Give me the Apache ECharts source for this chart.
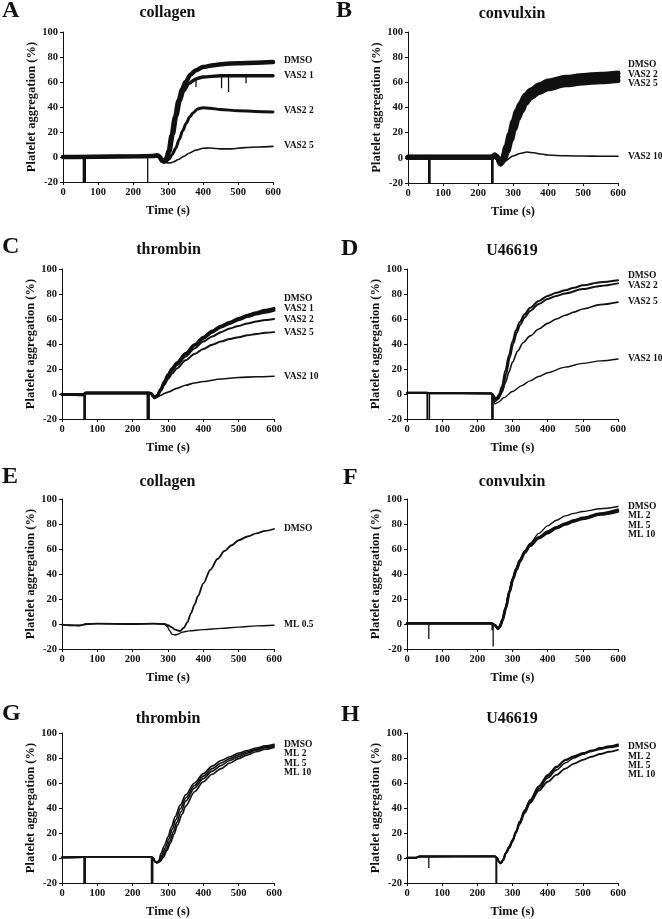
<!DOCTYPE html>
<html>
<head>
<meta charset="utf-8">
<script src="https://cdn.jsdelivr.net/npm/echarts@6/dist/echarts.min.js"></script>
<style>
html,body{margin:0;padding:0;background:#fff}
#main{width:662px;height:919px}
</style>
</head>
<body>
<div id="main"></div>
<script>
// ---- data: [time (s), aggregation (%)] ----
// A  collagen / VAS2
var aDMSO = [[0,0],[100,0.3],[200,0.5],[255,0.8],[268,1.5],[276,0.5],[283,-3],[289,-3.5],[295,-1],[302,5],[310,17],[320,32],[330,45],[340,54],[350,60],[365,66],[380,69.5],[400,72],[430,73.5],[460,74.5],[500,75],[550,75.5],[600,76]];
var aVAS2_1 = [[0,0],[260,0.5],[272,1],[280,-2],[288,-4],[296,-2.5],[305,4],[315,18],[325,33],[335,45],[345,53],[360,59],[380,62.5],[400,64],[450,65],[500,65],[600,65]];
var aVAS2_2 = [[0,0],[260,0.5],[272,0.5],[282,-2.5],[292,-4],[302,-2],[312,2],[322,7],[332,14],[342,21],[352,27],[362,32],[372,35.5],[385,38.5],[400,39.5],[420,39],[450,38],[500,37],[550,36.5],[600,36]];
var aVAS2_5 = [[0,0],[260,0.5],[275,0],[285,-3],[295,-4.6],[305,-4.8],[315,-4],[330,-2],[345,0.5],[360,3],[380,5.5],[400,7],[420,7.2],[450,6.5],[480,6.5],[520,7.5],[560,8],[600,8.5]];
var spikesA = [[58,0,-20],[60,0,-20],[62,0,-20],[64,0,-20],[242,0,-20],[380,62,56],[453,65,55],[473,65,52],[523,65,59]];

// B  convulxin / VAS2
var bDMSO = [[0,0.5],[240,0.5],[248,2.5],[255,1],[262,-4],[270,0],[280,9],[290,19],[300,29],[310,37],[320,43],[335,50],[350,54],[375,58],[400,61],[450,64],[500,65.5],[550,66.5],[600,67.5]];
var bVAS2_2 = [[0,0.5],[240,0.5],[250,1.5],[256,0],[263,-4.5],[272,-1],[282,7],[292,16.5],[302,27],[312,34.5],[322,40.5],[335,46.5],[350,51],[375,55],[400,58],[450,61],[500,62.5],[550,63.5],[600,64.5]];
var bVAS2_5 = [[0,0.5],[240,0.5],[250,1],[258,-1],[265,-5],[275,-2],[285,5],[295,14],[305,23],[315,31],[325,37],[337,43],[350,47.5],[375,52],[400,55],[450,58],[500,59.5],[550,60.5],[600,61.5]];
var bVAS2_10 = [[0,0.5],[240,0.5],[250,0.5],[258,-3],[265,-4.5],[280,-2],[300,1.5],[320,3.5],[340,4.6],[360,4],[380,3],[400,2.2],[450,1.6],[500,1.4],[550,1.3],[600,1.2]];
var spikesB = [[59,0.5,-20],[61,0.5,-20],[63,0.5,-20],[239,0.5,-20],[241,0.5,-20],[243,0.5,-20]];

// C  thrombin / VAS2
var cDMSO = [[0,-0.3],[60,-0.5],[68,0.8],[245,0.8],[252,0.5],[258,-1.5],[262,-3],[270,-1],[280,4],[290,10],[300,15.5],[312,20.5],[325,25],[350,32.5],[375,39.5],[400,45.5],[425,50.5],[450,54.5],[475,57.5],[500,60.5],[525,63],[550,65],[575,67],[600,68.5]];
var cVAS2_1 = [[0,-0.3],[60,-0.5],[68,0.8],[245,0.8],[252,0.5],[258,-1.5],[262,-3],[270,-1],[280,3.5],[290,9.5],[300,15],[312,20],[325,24.5],[350,32],[375,39],[400,44.5],[425,49.5],[450,53.5],[475,56.5],[500,59.5],[525,62],[550,64],[575,65.5],[600,67]];
var cVAS2_2 = [[0,-0.3],[60,-0.5],[68,0.8],[245,0.8],[252,0.5],[258,-1.5],[262,-3],[270,-1.5],[280,3],[290,8.5],[300,13.5],[312,18.5],[325,23],[350,30],[375,36.5],[400,42],[425,46],[450,49.5],[475,52.5],[500,54.5],[525,56.5],[550,58],[575,59.2],[600,60]];
var cVAS2_5 = [[0,-0.3],[60,-0.5],[68,0.8],[245,0.8],[252,0.5],[258,-1.5],[262,-3],[270,-1.5],[280,2.5],[290,7.5],[300,12],[312,16.5],[325,20.5],[350,27],[375,32],[400,36],[425,39.5],[450,42],[475,44],[500,45.5],[525,47],[550,48],[575,49],[600,49.5]];
var cVAS2_10 = [[0,-0.3],[60,-0.5],[68,0.8],[245,0.8],[252,0.5],[258,-1.5],[262,-3],[270,-2.5],[280,-1],[290,0.5],[300,1.5],[325,4.5],[350,7],[375,8.8],[400,10],[450,12],[500,13.2],[550,13.8],[600,14.2]];
var spikesC = [[62,0,-20],[64,0,-20],[66,0,-20],[241,0.8,-20],[243,0.8,-20],[245,0.8,-20],[247,0.8,-20]];

// D  U46619 / VAS2
var dDMSO = [[0,1],[56,1],[66,0.6],[240,0.5],[246,-1],[250,-3],[256,-3],[262,0],[270,6],[280,19],[290,31],[300,42],[310,51],[320,57.5],[335,64],[350,69],[375,74.5],[400,78.5],[425,81],[450,83],[475,85],[500,87],[550,89.5],[600,91]];
var dVAS2_2 = [[0,1],[56,1],[66,0.6],[240,0.5],[246,-1.5],[250,-4],[258,-3.5],[265,-1],[272,4],[282,16],[292,29],[302,40],[312,49],[322,55.5],[335,61.5],[350,66.5],[375,72],[400,76],[425,78.5],[450,80.5],[500,84],[550,86.5],[600,88.5]];
var dVAS2_5 = [[0,1],[56,1],[66,0.6],[240,0.5],[246,-2],[250,-6],[260,-4],[270,1.5],[280,9],[290,17.5],[300,25.5],[315,34.5],[330,41],[350,46.5],[375,52],[400,56.5],[425,60],[450,63],[475,65.5],[500,68],[550,71.5],[600,73.5]];
var dVAS2_10 = [[0,1],[56,1],[66,0.6],[240,0.5],[246,-3],[250,-8],[260,-6.5],[275,-3],[300,2],[325,6.5],[350,10.5],[375,14],[400,17],[450,21.5],[500,24.5],[550,26.5],[600,28]];
var spikesD = [[57,1,-20],[59,1,-20],[64,1,-20],[241,0.5,-20],[243,0.5,-20],[245,0.5,-20]];

// E  collagen / ML
var eDMSO = [[0,-0.5],[20,-1],[50,-1.2],[70,0],[100,0.3],[200,0],[260,0.3],[290,0],[300,-1],[310,-2.5],[320,-4.5],[334,-5.6],[345,-3],[355,1.5],[365,8.5],[375,15.5],[385,22.5],[400,32.5],[420,43.5],[440,52],[460,58.5],[480,63],[500,67],[525,70],[550,72.5],[575,74.5],[600,76]];
var eML05 = [[0,-0.5],[20,-1],[50,-1.2],[70,0],[100,0.3],[200,0],[260,0.3],[290,0],[298,-2],[305,-5.5],[312,-8.3],[320,-8.8],[330,-8],[340,-6.5],[360,-5.5],[400,-4.5],[450,-3.5],[500,-2.5],[550,-1.5],[600,-1]];

// F  convulxin / ML
var fDMSO = [[0,0.5],[240,0.5],[250,-1],[257,-3.5],[263,-2],[270,3],[280,13.5],[290,26],[300,36.5],[310,44.5],[320,51],[335,58.5],[350,64.5],[375,72.5],[400,78.5],[425,83],[450,86.5],[475,88.5],[500,90],[550,92.2],[600,94]];
var fML2 = [[0,0.5],[240,0.5],[250,-1],[258,-3.5],[264,-2],[271,3],[281,13.5],[291,26],[301,36.5],[311,44.5],[321,51],[335,58],[350,63.5],[375,69.5],[400,74],[425,77.5],[450,80.5],[475,83],[500,85],[550,88.5],[600,91.5]];
var fML5 = [[0,0.5],[240,0.5],[250,-1],[258,-3.5],[264,-2],[271,3],[281,13],[291,25.5],[301,36],[311,44],[321,50.5],[335,57.5],[350,63],[375,69],[400,73],[425,77],[450,80],[475,82.5],[500,84.5],[550,88],[600,90.5]];
var fML10 = [[0,0.5],[240,0.5],[250,-1],[259,-4],[265,-2],[272,3],[282,13],[292,25.5],[302,36],[312,43.5],[322,50],[335,57],[350,62.5],[375,68.5],[400,72.5],[425,76.5],[450,79.5],[475,82],[500,84],[550,87.5],[600,90]];
var spikesF = [[62,0.5,-12],[242,0.5,-5],[245,0.5,-18]];

// G  thrombin / ML
var gDMSO = [[0,0.5],[62,0.7],[70,1],[252,1],[258,0],[263,-3],[268,-3.8],[274,-2],[280,3.5],[290,10],[300,17],[310,25],[320,33],[335,42.5],[350,50.5],[375,60],[400,67.5],[425,73.5],[450,78],[475,81],[500,84],[525,86],[550,88],[575,89.7],[600,91]];
var gML2 = [[0,0.5],[62,0.7],[70,1],[252,1],[258,0],[263,-3],[268,-3.8],[275,-2.5],[282,2],[292,8],[302,15],[312,23],[322,30.5],[335,39.5],[350,48],[375,58],[400,65.5],[425,71.5],[450,76],[475,79.5],[500,82.5],[525,85],[550,87],[575,88.8],[600,90.2]];
var gML5 = [[0,0.5],[62,0.7],[70,1],[252,1],[258,0],[264,-3],[270,-3.8],[277,-2.5],[285,1.5],[295,7],[305,13.5],[315,21],[325,28.5],[337,37],[350,45.5],[375,56],[400,63.5],[425,69.5],[450,74],[475,78],[500,81],[525,84],[550,86.3],[575,88.2],[600,89.5]];
var gML10 = [[0,0.5],[62,0.7],[70,1],[252,1],[258,0],[264,-3],[270,-3.8],[278,-2.8],[287,0.5],[297,6],[307,12],[317,19],[327,26.5],[340,35],[350,41.5],[375,53],[400,61],[425,67],[450,71.5],[475,76],[500,79.5],[525,82.5],[550,85],[575,87],[600,88.5]];
var spikesG = [[62,0.7,-20],[64,0.7,-20],[66,0.7,-20],[253,1,-20],[255,1,-20],[257,1,-20]];

// H  U46619 / ML
var hDMSO = [[0,0.2],[25,0.2],[35,1.2],[250,1.3],[256,0],[261,-3],[266,-4.3],[272,-2],[281,4.3],[290,9],[300,14.5],[310,21.5],[320,29],[335,38.5],[350,46.5],[375,57.5],[400,66.5],[425,73],[450,78.5],[475,81.5],[500,84],[525,86],[550,88],[575,89.5],[600,91]];
var hML2 = [[0,0.2],[25,0.2],[35,1.2],[250,1.3],[256,0],[261,-3],[266,-4.3],[272,-2],[281,4],[290,8.5],[300,14],[310,21],[320,28.5],[335,38],[350,46],[375,57],[400,65.5],[425,72.5],[450,78],[475,81],[500,83.5],[525,85.8],[550,87.5],[575,89],[600,90.2]];
var hML5 = [[0,0.2],[25,0.2],[35,1.2],[250,1.3],[256,0],[262,-3],[267,-4.3],[273,-2],[282,4],[291,8.5],[300,13.5],[310,20.5],[320,27.5],[335,37],[350,45],[375,55.5],[400,64],[425,70.5],[450,76],[475,80],[500,83],[525,85.3],[550,87],[575,88.5],[600,89.5]];
var hML10 = [[0,0.2],[25,0.2],[35,1.2],[250,1.3],[256,0],[262,-3],[267,-4.3],[273,-2],[282,3.8],[291,8],[300,13],[310,20],[320,27],[335,36],[350,44],[375,54],[400,61],[425,66.5],[450,71.5],[475,75.5],[500,78.5],[525,81],[550,83.2],[575,85],[600,86.5]];
var spikesH = [[62,1.2,-8],[253,1.3,-20],[255,1.3,-20]];

var panelLetters = ['A','B','C','D','E','F','G','H'];
var panelTitles = ['collagen','convulxin','thrombin','U46619','collagen','convulxin','thrombin','U46619'];
var panelNames = [
  ['DMSO','VAS2 1','VAS2 2','VAS2 5'],
  ['DMSO','VAS2 2','VAS2 5','VAS2 10'],
  ['DMSO','VAS2 1','VAS2 2','VAS2 5','VAS2 10'],
  ['DMSO','VAS2 2','VAS2 5','VAS2 10'],
  ['DMSO','ML 0.5'],
  ['DMSO','ML 2','ML 5','ML 10'],
  ['DMSO','ML 2','ML 5','ML 10'],
  ['DMSO','ML 2','ML 5','ML 10']
];
var panelSeries = [
  [aDMSO,aVAS2_1,aVAS2_2,aVAS2_5],
  [bDMSO,bVAS2_2,bVAS2_5,bVAS2_10],
  [cDMSO,cVAS2_1,cVAS2_2,cVAS2_5,cVAS2_10],
  [dDMSO,dVAS2_2,dVAS2_5,dVAS2_10],
  [eDMSO,eML05],
  [fDMSO,fML2,fML5,fML10],
  [gDMSO,gML2,gML5,gML10],
  [hDMSO,hML2,hML5,hML10]
];
var panelSpikes = [spikesA,spikesB,spikesC,spikesD,[],spikesF,spikesG,spikesH];
var xTicks = [0,100,200,300,400,500,600];
var yTicks = [-20,0,20,40,60,80,100];

// ---- layout / style (pixels) ----
var gridBoxes = [[63,32,210,150],[408,32,210,151],[62,269,212,150],[407,269,211,150],
                 [62,499,212,150],[407,499,211,150],[62,733,212,150],[407,733,211,150]];
var letterPos = [[2,10.5],[336,10.5],[2,246.5],[341,248.5],[2,476.5],[343,477.5],[2,714],[341,715]];
var titlePos = [[167.5,13],[512,14],[168.5,250],[512,251],[167.5,482],[512,482],[168,719],[512,719]];
var labelX = [284,628,284,628,284,628,284,628];
var labelY = [[61,76,111,146],[65,75,84,157],[299,309,320,333,377],[276,286,302,359],
              [529,625],[507,516,526,535],[745,754,764,773],[747,757,766,775]];
var lineWidths = [[4.5,3.5,3,1.6],[5,5,5,1.6],[3,3,2,2,1.6],[2,2,1.6,1.4],
                  [1.8,1.4],[1.4,2.4,2.4,2.4],[1.6,1.6,1.6,1.6],[1.8,1.6,1.6,1.8]];

var ink = '#111111';
var serif = "'Liberation Serif','Times New Roman',serif";

var grids = [], xAxes = [], yAxes = [], series = [], graphics = [];
for (var i = 0; i < 8; i++) {
  var b = gridBoxes[i];
  grids.push({left:b[0], top:b[1], width:b[2], height:b[3]});
  xAxes.push({
    type:'value', gridIndex:i, min:xTicks[0], max:xTicks[xTicks.length-1], interval:100,
    name:'Time (s)', nameLocation:'middle', nameGap:22,
    nameTextStyle:{fontFamily:serif, fontWeight:'bold', fontSize:12.5, color:ink},
    axisLine:{show:true, onZero:false, lineStyle:{color:ink, width:1}},
    axisTick:{show:true, inside:false, length:3, lineStyle:{color:ink}},
    axisLabel:{fontFamily:serif, fontWeight:'bold', fontSize:10.5, color:ink, margin:5},
    splitLine:{show:false}
  });
  yAxes.push({
    type:'value', gridIndex:i, min:yTicks[0], max:yTicks[yTicks.length-1], interval:20,
    name:'Platelet aggregation (%)', nameLocation:'middle', nameGap:24, nameRotate:90,
    nameTextStyle:{fontFamily:serif, fontWeight:'bold', fontSize:12.5, color:ink},
    axisLine:{show:true, onZero:false, lineStyle:{color:ink, width:1}},
    axisTick:{show:true, inside:false, length:3, lineStyle:{color:ink}},
    axisLabel:{fontFamily:serif, fontWeight:'bold', fontSize:10.5, color:ink, margin:5},
    splitLine:{show:false}
  });

  // injection / stirring artefacts
  var sp = panelSpikes[i], spData = [];
  for (var k = 0; k < sp.length; k++) {
    spData.push([sp[k][0], sp[k][1]], [sp[k][0], sp[k][2]], [sp[k][0], '-']);
  }
  if (spData.length) {
    series.push({type:'line', xAxisIndex:i, yAxisIndex:i, data:spData, symbol:'none',
      connectNulls:false, silent:true, clip:true, lineStyle:{color:ink, width:1.3}});
  }

  var ss = panelSeries[i];
  for (var j = 0; j < ss.length; j++) {
    series.push({
      type:'line', name:panelNames[i][j], xAxisIndex:i, yAxisIndex:i, data:ss[j],
      symbol:'none', smooth:0.3, smoothMonotone:'x', silent:true, clip:true,
      lineStyle:{color:ink, width:lineWidths[i][j], join:'round', cap:'round'}
    });
    graphics.push({type:'text', x:labelX[i], y:labelY[i][j], silent:true,
      style:{text:panelNames[i][j], fill:ink, font:'bold 9.5px ' + serif, align:'left', verticalAlign:'middle'}});
  }

  graphics.push({type:'text', x:letterPos[i][0], y:letterPos[i][1], silent:true,
    style:{text:panelLetters[i], fill:ink, font:'bold 24px ' + serif, align:'left', verticalAlign:'middle'}});
  graphics.push({type:'text', x:titlePos[i][0], y:titlePos[i][1], silent:true,
    style:{text:panelTitles[i], fill:ink, font:'bold 16px ' + serif, align:'center', verticalAlign:'middle'}});
}

var myChart = echarts.init(document.getElementById('main'), null, {renderer:'canvas'});
myChart.setOption({
  animation:false,
  backgroundColor:'#ffffff',
  grid:grids,
  xAxis:xAxes,
  yAxis:yAxes,
  series:series,
  graphic:graphics
});
</script>
</body>
</html>
